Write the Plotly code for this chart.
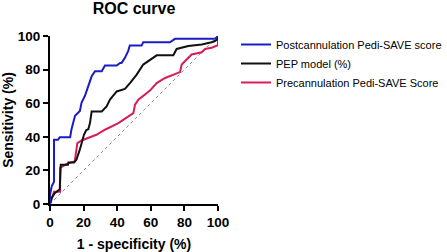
import plotly.graph_objects as go

post_x = [0, 0, 1, 2.4, 2.4, 4.8, 5.8, 12, 12.7, 14.9, 17.8, 18.8, 20.8, 22.8, 24.8, 26.8, 30.8, 32.7, 39.7, 41.7, 42.6, 44.6, 46.5, 47.5, 54.5, 55.5, 71.4, 74.4, 98.2, 100]
post_y = [0, 5.4, 10.5, 13.3, 38.2, 38.2, 39.8, 39.8, 44, 52.5, 55.4, 60.4, 64.4, 70, 76, 79, 79, 82.4, 82.4, 84, 84, 87, 91, 94.3, 94.3, 96.3, 96.3, 98.3, 98.3, 100]

pep_x = [0, 1, 2.8, 5.8, 6.4, 10.7, 11, 14.3, 15.7, 17.7, 20.2, 21.6, 22.8, 23.8, 24.8, 30.8, 33.7, 35.7, 39.7, 44.6, 47.6, 51.6, 55.5, 57.5, 60.5, 63.5, 73.4, 75.4, 82.3, 90.3, 96.2, 98.2, 99.6, 100]
pep_y = [0, 3.6, 6.4, 8.8, 23.3, 23.3, 24.7, 24.7, 26.3, 32.2, 41.2, 44, 44.5, 48.2, 55.1, 55.1, 58.1, 62.1, 67, 68.5, 72, 77, 83, 84.5, 86.5, 88.5, 88.5, 92.3, 94, 95, 96.3, 97, 98, 100]

pre_x = [0, 2.4, 6, 6, 10.7, 14.7, 16.3, 18.8, 27.6, 32.7, 40.7, 49.6, 50.6, 52.6, 59.5, 63.5, 68.5, 77.4, 78.4, 82.3, 84.3, 90.3, 92.3, 96.2, 100, 100]
pre_y = [0, 7.3, 7.3, 21.5, 24.3, 25.3, 36.2, 37.8, 41.2, 44.2, 48.2, 54.1, 59.1, 62.1, 67.5, 72, 75, 78.5, 83, 87, 89, 90.3, 92.3, 93, 94.5, 100]

diag_x = [0, 100]
diag_y = [0, 100]

x_ticks = [0, 20, 40, 60, 80, 100]
y_ticks = [0, 20, 40, 60, 80, 100]

BLUE = "#1c1cc4"
BLACK = "#111111"
RED = "#d81b5a"
FONT = "Liberation Sans, Arial"

fig = go.Figure()
fig.add_trace(go.Scatter(x=diag_x, y=diag_y, mode="lines", showlegend=False,
                         line=dict(color="#8a8a8a", width=1, dash="dot"), cliponaxis=False))
fig.add_trace(go.Scatter(x=pre_x, y=pre_y, mode="lines", name="Precannulation Pedi-SAVE Score",
                         line=dict(color=RED, width=2), cliponaxis=False))
fig.add_trace(go.Scatter(x=pep_x, y=pep_y, mode="lines", name="PEP model (%)",
                         line=dict(color=BLACK, width=2), cliponaxis=False))
fig.add_trace(go.Scatter(x=post_x, y=post_y, mode="lines", name="Postcannulation Pedi-SAVE score",
                         line=dict(color=BLUE, width=2), cliponaxis=False))

axis_common = dict(showgrid=False, zeroline=False, showline=True, linecolor="black", linewidth=2,
                   ticks="outside", ticklen=5, tickwidth=2, tickcolor="black", automargin=False,
                   tickfont=dict(family=FONT, size=13.5, color="black", weight="bold"))

fig.update_layout(
    width=447, height=252,
    margin=dict(l=50, r=229, t=36, b=48, autoexpand=False),
    paper_bgcolor="white", plot_bgcolor="white",
    title=dict(text="<b>ROC curve</b>", x=134 / 447, xanchor="center", y=0.99, yanchor="top",
               font=dict(family=FONT, size=16, color="black"), automargin=False),
    xaxis=dict(range=[0, 100], tickvals=x_ticks, autorange=False,
               title=dict(text="<b>1 - specificity (%)</b>", standoff=10,
                          font=dict(family=FONT, size=14, color="black")),
               **axis_common),
    yaxis=dict(range=[0, 100], tickvals=y_ticks, autorange=False,
               title=dict(text="<b>Sensitivity (%)</b>", standoff=5,
                          font=dict(family=FONT, size=14, color="black")),
               **axis_common),
    legend=dict(x=236 / 447, y=1 - 30 / 252, xref="container", yref="container",
                xanchor="left", yanchor="top", traceorder="reversed",
                itemwidth=30, tracegroupgap=0,
                font=dict(family=FONT, size=11, color="black"),
                bgcolor="rgba(0,0,0,0)"),
)

fig.write_html("out.html", config={"displayModeBar": False},
               post_script="document.body.style.margin='0';document.body.style.padding='0';")
